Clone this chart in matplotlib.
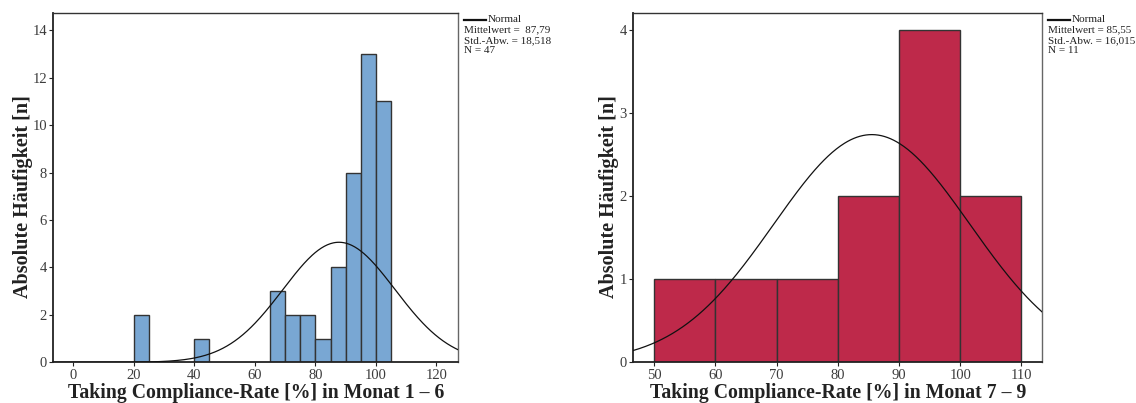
import numpy as np
import matplotlib
matplotlib.use('Agg')
import matplotlib.pyplot as plt

plt.rcParams['font.family'] = ['Liberation Serif', 'DejaVu Serif']

# Monat 1 - 6 (Klassenbreite 5)
bins_1 = [20, 40, 65, 70, 75, 80, 85, 90, 95, 100]
counts_1 = [2, 1, 3, 2, 2, 1, 4, 8, 13, 11]
width_1 = 5
mean_1, sd_1, n_1 = 87.79, 18.518, 47
stats_1 = ['Mittelwert =  87,79', 'Std.-Abw. = 18,518', 'N = 47']

# Monat 7 - 9 (Klassenbreite 10)
bins_2 = [50, 60, 70, 80, 90, 100]
counts_2 = [1, 1, 1, 2, 4, 2]
width_2 = 10
mean_2, sd_2, n_2 = 85.55, 16.015, 11
stats_2 = ['Mittelwert = 85,55', 'Std.-Abw. = 16,015', 'N = 11']

fig = plt.figure(figsize=(11.36, 4.03), dpi=100)
ax1 = fig.add_axes([0.0469, 0.101, 0.3565, 0.866])
ax2 = fig.add_axes([0.5575, 0.101, 0.360, 0.866])


def panel(ax, bins, counts, width, mean, sd, n, stats, color, xlim, ylim,
          xticks, yticks, xlabel, ylab_x):
    ax.bar(bins, counts, width=width, align='edge', color=color,
           edgecolor='#333333', linewidth=1.0, zorder=2)
    x = np.linspace(xlim[0], xlim[1], 400)
    y = n * width / (sd * np.sqrt(2 * np.pi)) * np.exp(-0.5 * ((x - mean) / sd) ** 2)
    ax.plot(x, y, color='#111111', linewidth=0.9, zorder=3)
    ax.set_xlim(*xlim)
    ax.set_ylim(*ylim)
    ax.set_xticks(xticks)
    ax.set_yticks(yticks)
    ax.tick_params(direction='out', length=3, width=0.8, labelsize=10.5,
                   labelcolor='#3c3c3c', color='#222222', pad=1.5)
    for s in ['left', 'bottom']:
        ax.spines[s].set_linewidth(1.3)
        ax.spines[s].set_color('#222222')
    ax.spines['top'].set_linewidth(1.0)
    ax.spines['top'].set_color('#333333')
    ax.spines['right'].set_linewidth(1.0)
    ax.spines['right'].set_color('#666666')
    ax.set_xlabel(xlabel, fontsize=14.2, fontweight='bold', color='#222222',
                  labelpad=1)
    ax.set_ylabel('Absolute Häufigkeit [n]', fontsize=14.5, fontweight='bold',
                  color='#222222')
    ax.yaxis.set_label_coords(ylab_x, 0.474)

    # legend block right of the plot
    ax.plot([1.015, 1.068], [0.981, 0.981], transform=ax.transAxes,
            color='#111111', linewidth=1.6, clip_on=False)
    ax.text(1.072, 0.981, 'Normal', transform=ax.transAxes, fontsize=8.0,
            va='center', ha='left', color='#222222')
    for i, s in enumerate(stats):
        ax.text(1.015, 0.981 - 0.0295 * (i + 1), s, transform=ax.transAxes,
                fontsize=8.0, va='center', ha='left', color='#222222')


panel(ax1, bins_1, counts_1, width_1, mean_1, sd_1, n_1, stats_1, '#79a7d3',
      (-6.6, 127.2), (0, 14.72), [0, 20, 40, 60, 80, 100, 120],
      [0, 2, 4, 6, 8, 10, 12, 14],
      'Taking Compliance-Rate [%] in Monat 1 – 6', -0.049)
panel(ax2, bins_2, counts_2, width_2, mean_2, sd_2, n_2, stats_2, '#be294a',
      (46.6, 113.4), (0, 4.2), [50, 60, 70, 80, 90, 100, 110],
      [0, 1, 2, 3, 4],
      'Taking Compliance-Rate [%] in Monat 7 – 9', -0.036)

fig.savefig('out.png', dpi=100)
